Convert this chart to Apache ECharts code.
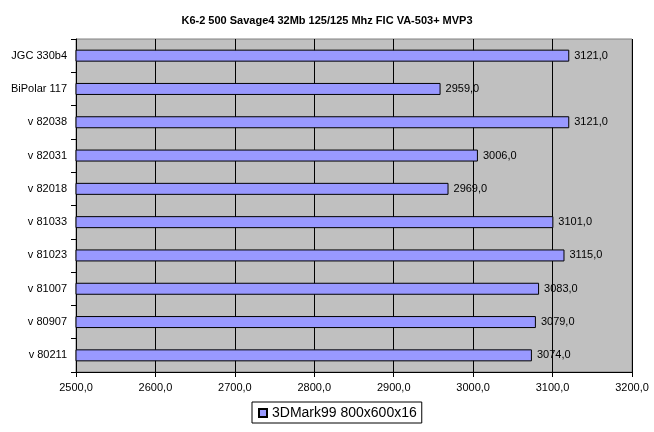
<!DOCTYPE html>
<html><head><meta charset="utf-8">
<script src="https://cdn.jsdelivr.net/npm/echarts@6/dist/echarts.min.js"></script>
<style>html,body{margin:0;padding:0;background:#fff}#c{width:654px;height:432px}</style>
</head><body><div id="c"></div>
<script>
var titleText = 'K6-2 500 Savage4 32Mb 125/125 Mhz FIC VA-503+ MVP3';
var categories = ['JGC 330b4','BiPolar 117','v 82038','v 82031','v 82018','v 81033','v 81023','v 81007','v 80907','v 80211'];
var values = [3121, 2959, 3121, 3006, 2969, 3101, 3115, 3083, 3079, 3074];
var seriesName = '3DMark99 800x600x16';
var xTicks = [2500, 2600, 2700, 2800, 2900, 3000, 3100, 3200];
var FONT = 'Liberation Sans, Arial, sans-serif';
function fmt(v){ return Number(v).toFixed(1).replace('.', ','); }
var chart = echarts.init(document.getElementById('c'), null, {renderer:'canvas'});
chart.setOption({
  animation: false,
  backgroundColor: '#fff',
  title: { text: titleText, left: 'center', top: 10,
    textStyle: { fontFamily: FONT, fontSize: 11, fontWeight: 'bold', color: '#000' } },
  grid: { left: 76, right: 22, top: 39, bottom: 60, show: true,
    backgroundColor: '#C0C0C0', borderColor: '#808080', borderWidth: 1 },
  legend: { bottom: 9, left: 252, data: [seriesName], icon: 'rect',
    itemWidth: 8, itemHeight: 8, itemGap: 5, padding: [4, 5, 3, 6],
    borderColor: '#000', borderWidth: 1, backgroundColor: '#fff',
    textStyle: { fontFamily: FONT, fontSize: 14, color: '#000' } },
  xAxis: { type: 'value', min: xTicks[0], max: xTicks[xTicks.length-1], interval: 100,
    axisLine: { show: true, lineStyle: { color: '#000' } },
    axisTick: { show: true, length: 5, lineStyle: { color: '#000' } },
    splitLine: { show: true, lineStyle: { color: '#000', width: 1 } },
    axisLabel: { formatter: fmt, fontFamily: FONT, fontSize: 11, color: '#000', margin: 10 } },
  yAxis: { type: 'category', data: categories, inverse: true,
    axisLine: { show: true, lineStyle: { color: '#000' } },
    axisTick: { show: true, length: 5, lineStyle: { color: '#000' } },
    splitLine: { show: false },
    axisLabel: { fontFamily: FONT, fontSize: 11, color: '#000', margin: 9 } },
  series: [{ name: seriesName, type: 'bar', data: values, barWidth: 12,
    itemStyle: { color: '#9999FF', borderColor: '#000', borderWidth: 1 },
    label: { show: true, position: 'right', distance: 5, formatter: function(p){ return fmt(p.value); },
      fontFamily: FONT, fontSize: 11, color: '#000' } }]
});
</script></body></html>
